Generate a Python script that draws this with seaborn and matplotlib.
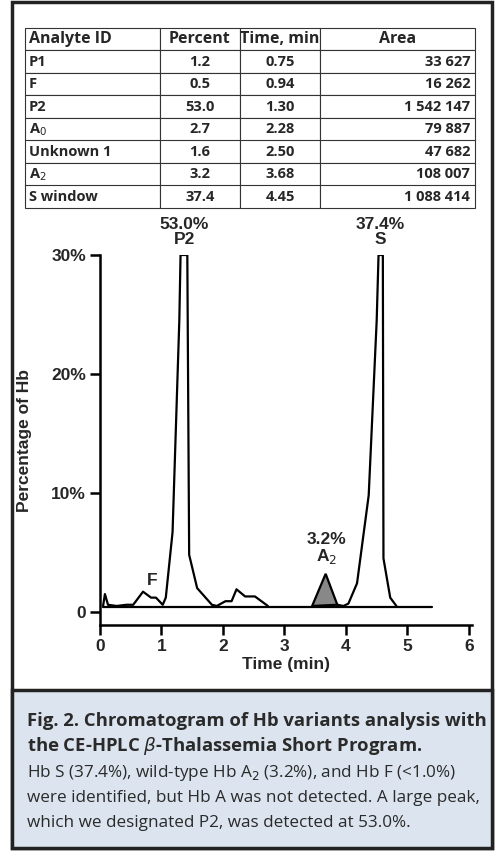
import matplotlib
matplotlib.use("Agg")
import matplotlib.pyplot as plt
import seaborn as sns
import pandas as pd
from matplotlib.patches import Rectangle

sns.set_theme(style="ticks")
plt.rcParams['font.family'] = ['Liberation Sans', 'DejaVu Sans']

# table data
analytes = ["P1", "F", "P2", "A$_0$", "Unknown 1", "A$_2$", "S window"]
percents = ["1.2", "0.5", "53.0", "2.7", "1.6", "3.2", "37.4"]
times = ["0.75", "0.94", "1.30", "2.28", "2.50", "3.68", "4.45"]
areas = ["33 627", "16 262", "1 542 147", "79 887", "47 682", "108 007", "1 088 414"]

# chromatogram trace (time, percent), clipped at 30 in the plot
t_main = [0.05, 0.08, 0.13, 0.27, 0.43, 0.54, 0.70, 0.83, 0.91, 1.02, 1.07, 1.18, 1.29, 1.31,
          1.42, 1.45, 1.58, 1.82, 1.90, 2.04, 2.14, 2.22, 2.36, 2.52, 2.73]
y_main = [0.5, 1.5, 0.6, 0.5, 0.6, 0.6, 1.7, 1.2, 1.2, 0.6, 1.2, 6.7, 24.5, 30,
          30, 4.8, 2.0, 0.6, 0.5, 0.9, 0.9, 1.9, 1.3, 1.3, 0.5]
t_a2 = [3.45, 3.67, 3.86]
y_a2 = [0.5, 3.2, 0.6]
t_s = [3.86, 3.96, 4.04, 4.18, 4.37, 4.50, 4.53, 4.60, 4.61, 4.72, 4.82]
y_s = [0.6, 0.5, 0.7, 2.4, 9.8, 24.5, 30, 30, 4.5, 1.2, 0.5]
baseline_t = [0.05, 5.4]
baseline_y = [0.45, 0.45]

fig = plt.figure(figsize=(5, 8.6), dpi=100)

fig.patches.append(Rectangle((12/500, 12/860), 480/500, 846/860, transform=fig.transFigure,
                             fill=False, edgecolor="#222222", lw=2.5))
fig.patches.append(Rectangle((12/500, 12/860), 480/500, 158/860, transform=fig.transFigure,
                             facecolor="#dce5ef", edgecolor="#222222", lw=2.5))

# table
tax = fig.add_axes([25/500, (860-208)/860, 450/500, 180/860])
tax.axis("off")
cells = [[a, p, t, ar] for a, p, t, ar in zip(analytes, percents, times, areas)]
tbl = tax.table(cellText=cells, colLabels=["Analyte ID", "Percent", "Time, min", "Area"],
                colWidths=[135/450, 80/450, 80/450, 155/450], loc="center", bbox=[0, 0, 1, 1])
tbl.auto_set_font_size(False)
for (r, c), cell in tbl.get_celld().items():
    cell.set_linewidth(0.8)
    cell.set_edgecolor("#333333")
    txt = cell.get_text()
    txt.set_fontsize(11.5 if r == 0 else 10.5)
    txt.set_family(['Open Sans', 'DejaVu Sans'])
    txt.set_fontweight("bold")
    if c == 0:
        cell._loc = "left"; txt.set_ha("left")
    elif c == 3 and r > 0:
        cell._loc = "right"; txt.set_ha("right")
    else:
        cell._loc = "center"; txt.set_ha("center")
    cell.PAD = 0.03

# chart
ax = fig.add_axes([100/500, (860-625)/860, 372/500, 370/860])
df_main = pd.DataFrame({"t": t_main, "y": [min(v, 30) for v in y_main]})
df_s = pd.DataFrame({"t": t_s, "y": [min(v, 30) for v in y_s]})
sns.lineplot(data=df_main, x="t", y="y", ax=ax, color="black", lw=1.6, sort=False, estimator=None)
sns.lineplot(data=df_s, x="t", y="y", ax=ax, color="black", lw=1.6, sort=False, estimator=None)
ax.fill(t_a2, y_a2, facecolor="#888888", edgecolor="black", lw=1.6)
ax.plot(baseline_t, baseline_y, color="black", lw=1.6)
ax.set_xlim(0, 6.05)
ax.set_ylim(-1.1, 30)
ax.set_xticks(range(0, 7))
ax.set_yticks([0, 10, 20, 30])
ax.set_yticklabels(["0", "10%", "20%", "30%"])
for s in ["top", "right"]:
    ax.spines[s].set_visible(False)
for s in ["left", "bottom"]:
    ax.spines[s].set_linewidth(1.8)
    ax.spines[s].set_color("black")
ax.tick_params(width=1.8, length=7, color="black", labelsize=12.5, pad=3)
for lab in ax.get_xticklabels() + ax.get_yticklabels():
    lab.set_fontweight("bold")
ax.set_xlabel("Time (min)", fontsize=12.5, fontweight="bold", labelpad=2)
ax.set_ylabel("Percentage of Hb", fontsize=12.5, fontweight="bold", labelpad=14)
kw = dict(ha="center", fontsize=12.5, fontweight="bold", clip_on=False)
ax.text(1.37, 30.7, "53.0%\nP2", va="bottom", linespacing=1.0, **kw)
ax.text(4.56, 30.7, "37.4%\nS", va="bottom", linespacing=1.0, **kw)
ax.text(3.69, 3.9, "3.2%\nA$_2$", va="bottom", linespacing=1.0, **kw)
ax.text(0.85, 2.0, "F", va="bottom", **kw)

# caption
cf = ['Open Sans', 'DejaVu Sans']
fig.text(27/500, 1 - 726/860, "Fig. 2. Chromatogram of Hb variants analysis with",
         fontsize=13.3, fontweight="bold", family=cf, color="#2a2a2a")
fig.text(27/500, 1 - 751/860, r"the CE-HPLC $\beta$-Thalassemia Short Program.",
         fontsize=13.3, fontweight="bold", family=cf, color="#2a2a2a")
fig.text(27/500, 1 - 777/860, "Hb S (37.4%), wild-type Hb A$_2$ (3.2%), and Hb F (<1.0%)",
         fontsize=12.3, family=cf, color="#2a2a2a")
fig.text(27/500, 1 - 802/860, "were identified, but Hb A was not detected. A large peak,",
         fontsize=12.3, family=cf, color="#2a2a2a")
fig.text(27/500, 1 - 827/860, "which we designated P2, was detected at 53.0%.",
         fontsize=12.3, family=cf, color="#2a2a2a")

fig.savefig("out.png", dpi=100)
